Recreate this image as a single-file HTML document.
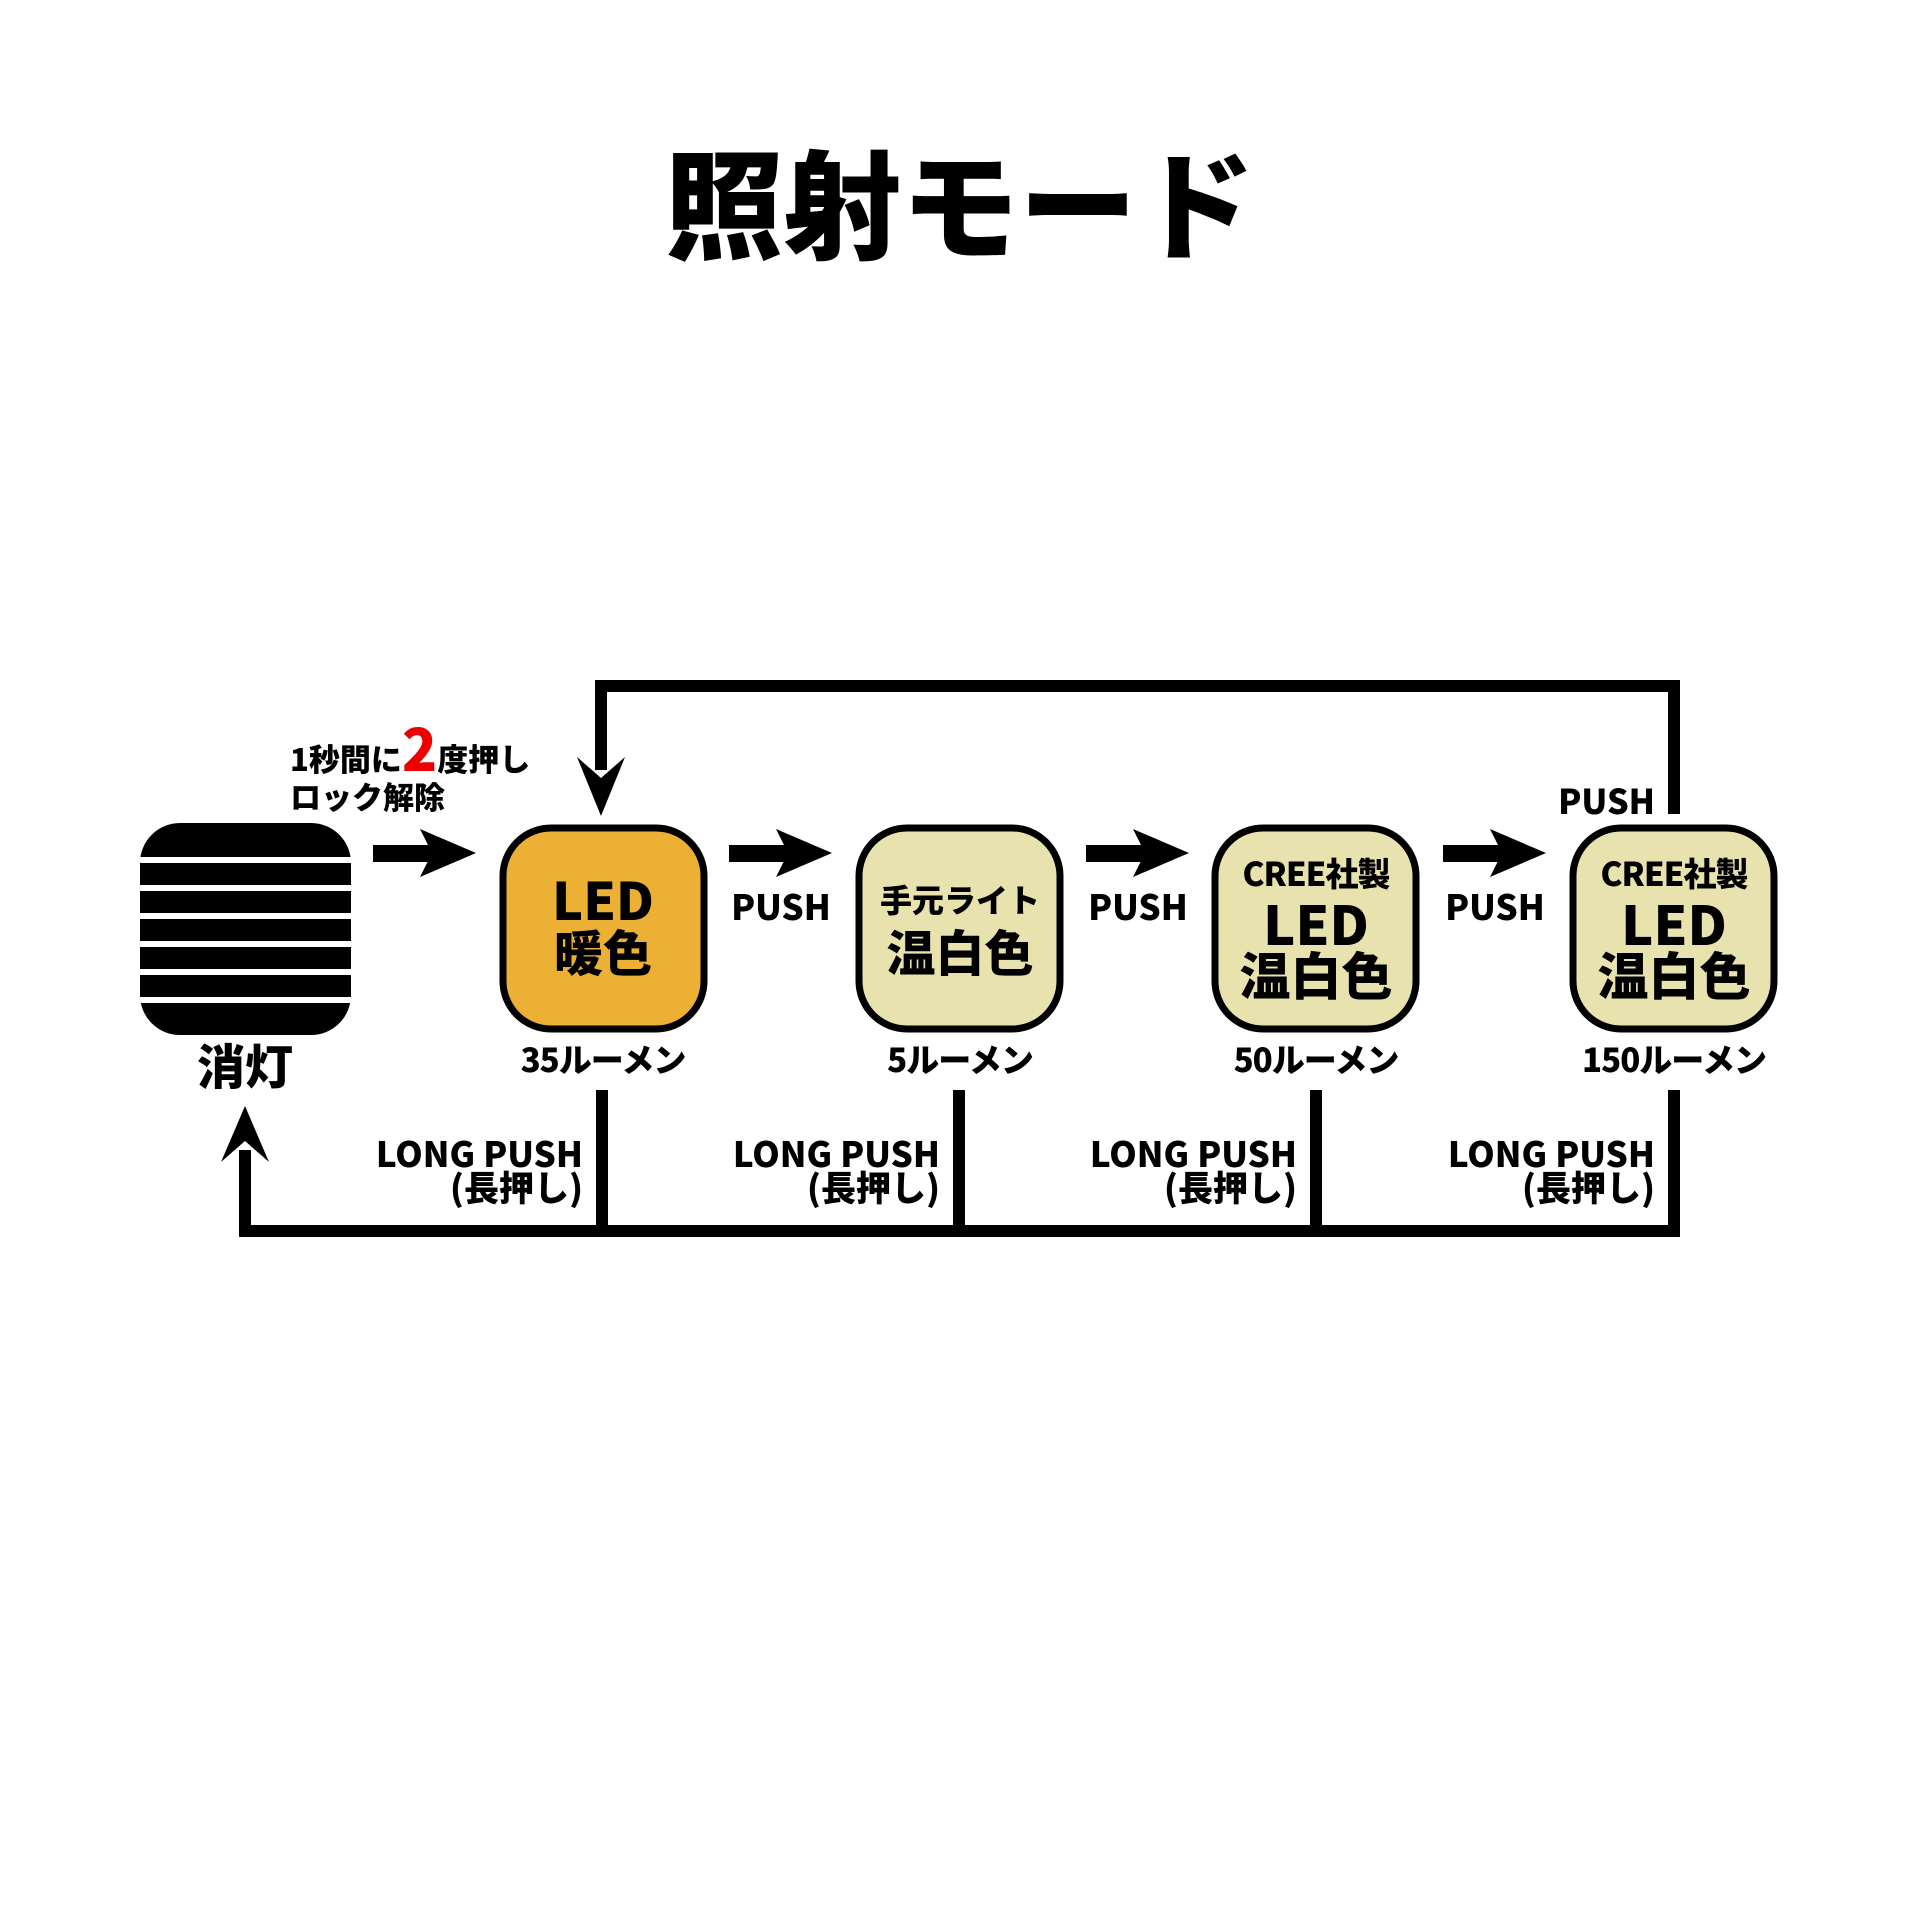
<!DOCTYPE html>
<html><head><meta charset="utf-8"><style>
html,body{margin:0;padding:0;background:#fff}
svg{display:block}
text{font-family:"Liberation Sans","Noto Sans CJK JP",sans-serif;font-weight:bold;fill:#000}
.j{font-family:"Noto Sans CJK JP","Liberation Sans",sans-serif;font-weight:900}
</style></head><body>
<svg width="1920" height="1920" viewBox="0 0 1920 1920" xmlns="http://www.w3.org/2000/svg">
<text x="960" y="250" text-anchor="middle" class="j" font-size="118">照射モード</text>

<!-- top loop -->
<polyline points="1674,814 1674,686 601,686 601,770" fill="none" stroke="#000" stroke-width="12"/>
<polygon points="577,757 601,778 625,757 601,816" fill="#000"/>
<text x="1655" y="814" text-anchor="end" class="j" font-size="34">PUSH</text>

<!-- bottom loop -->
<polyline points="245,1150 245,1231 1674,1231 1674,1090" fill="none" stroke="#000" stroke-width="12"/>
<line x1="602" y1="1090" x2="602" y2="1231" stroke="#000" stroke-width="12"/>
<line x1="959" y1="1090" x2="959" y2="1231" stroke="#000" stroke-width="12"/>
<line x1="1316" y1="1090" x2="1316" y2="1231" stroke="#000" stroke-width="12"/>
<polygon points="221,1162 245,1141 269,1162 245,1106" fill="#000"/>

<!-- off icon -->
<rect x="140" y="823" width="211" height="212" rx="40" fill="#000"/>
<g fill="#fff">
<rect x="140" y="857" width="211" height="6"/>
<rect x="140" y="885" width="211" height="6"/>
<rect x="140" y="913" width="211" height="6"/>
<rect x="140" y="941" width="211" height="6"/>
<rect x="140" y="969" width="211" height="6"/>
<rect x="140" y="997" width="211" height="6"/>
</g>
<text x="245" y="1084" text-anchor="middle" class="j" font-size="48">消灯</text>

<text x="290" y="771" class="j" font-size="31">1秒間に<tspan fill="#e00" font-size="58">2</tspan>度押し</text>
<text x="290" y="809" class="j" font-size="31">ロック解除</text>

<!-- right arrows -->
<g fill="#000">
<rect x="373" y="845" width="60" height="17"/><polygon points="420,829 476,853 420,877 432,853"/>
<rect x="729" y="845" width="60" height="17"/><polygon points="776,829 832,853 776,877 788,853"/>
<rect x="1086" y="845" width="60" height="17"/><polygon points="1133,829 1189,853 1133,877 1145,853"/>
<rect x="1443" y="845" width="60" height="17"/><polygon points="1490,829 1546,853 1490,877 1502,853"/>
</g>
<g class="j" font-size="35" text-anchor="middle">
<text x="781" y="920" class="j">PUSH</text>
<text x="1138" y="920" class="j">PUSH</text>
<text x="1495" y="920" class="j">PUSH</text>
</g>

<!-- boxes -->
<rect x="503" y="828" width="201" height="201" rx="48" fill="#ecb035" stroke="#000" stroke-width="7"/>
<rect x="859" y="828" width="201" height="201" rx="48" fill="#e8e2ae" stroke="#000" stroke-width="7"/>
<rect x="1215" y="828" width="201" height="201" rx="48" fill="#e8e2ae" stroke="#000" stroke-width="7"/>
<rect x="1573" y="828" width="201" height="201" rx="48" fill="#e8e2ae" stroke="#000" stroke-width="7"/>

<text x="603" y="920" text-anchor="middle" class="j" font-size="52">LED</text>
<text x="603" y="971" text-anchor="middle" class="j" font-size="49">暖色</text>

<text x="960" y="912" text-anchor="middle" class="j" font-size="32">手元ライト</text>
<text x="960" y="971" text-anchor="middle" class="j" font-size="49">温白色</text>

<text x="1316" y="886" text-anchor="middle" class="j" font-size="33" letter-spacing="-1">CREE社製</text>
<text x="1316" y="945" text-anchor="middle" class="j" font-size="54">LED</text>
<text x="1316" y="995" text-anchor="middle" class="j" font-size="51">温白色</text>

<text x="1674" y="886" text-anchor="middle" class="j" font-size="33" letter-spacing="-1">CREE社製</text>
<text x="1674" y="945" text-anchor="middle" class="j" font-size="54">LED</text>
<text x="1674" y="995" text-anchor="middle" class="j" font-size="51">温白色</text>

<text x="603" y="1072" text-anchor="middle" class="j" font-size="33" letter-spacing="-1">35ルーメン</text>
<text x="960" y="1072" text-anchor="middle" class="j" font-size="33" letter-spacing="-1">5ルーメン</text>
<text x="1316" y="1072" text-anchor="middle" class="j" font-size="33" letter-spacing="-1">50ルーメン</text>
<text x="1674" y="1072" text-anchor="middle" class="j" font-size="33" letter-spacing="-1">150ルーメン</text>

<!-- long push labels -->
<g font-size="35" text-anchor="end">
<text x="583" y="1167" class="j">LONG PUSH</text><text x="583" y="1201" class="j">(長押し)</text>
<text x="940" y="1167" class="j">LONG PUSH</text><text x="940" y="1201" class="j">(長押し)</text>
<text x="1297" y="1167" class="j">LONG PUSH</text><text x="1297" y="1201" class="j">(長押し)</text>
<text x="1655" y="1167" class="j">LONG PUSH</text><text x="1655" y="1201" class="j">(長押し)</text>
</g>
</svg>
</body></html>
